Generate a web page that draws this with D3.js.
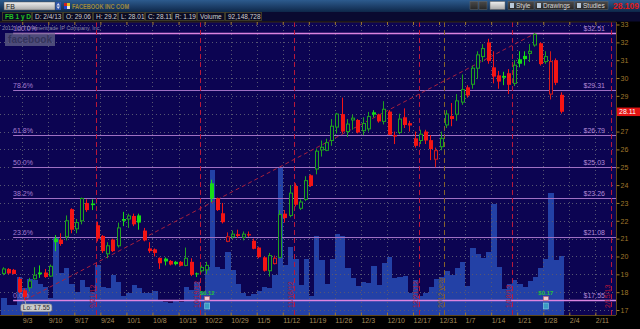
<!DOCTYPE html>
<html>
<head>
<meta charset="utf-8">
<script src="https://d3js.org/d3.v7.min.js"></script>
<style>
  body { margin: 0; background: #000; }
  svg { display: block; font-family: "Liberation Sans", Arial, sans-serif; }
</style>
</head>
<body>
<svg></svg>
<script>
// FB daily chart 8/28/12 - 2/4/13, thinkorswim look

const width = 640;
const height = 329;
const plot = { left: 0, right: 616, top: 22, bottom: 315 };
const bg = "#0c0452";

// OHLC por dia
const opens = [19.05,19.3,19.25,18.75,18.1,18.25,18.75,19.1,19.1,18.9,
  21.0,20.95,21.1,22.65,21.55,22.0,23.0,22.97,21.75,21.15,
  20.15,20.95,20.6,22.1,22.1,22.27,22.3,21.45,20.45,20.4,
  19.92,19.88,19.75,19.7,19.7,19.5,19.7,19.05,19.2,19.25,
  24.1,23.25,22.42,20.85,21.1,21.25,21.08,21.25,20.88,20.5,
  19.95,19.2,19.6,19.95,22.4,22.3,23.95,22.7,23.2,24.55,
  24.9,25.97,25.95,26.5,27.25,27.98,27.0,27.65,27.65,27.05,
  27.15,28.08,27.95,27.57,28.12,26.8,26.95,27.8,27.47,26.62,
  26.5,27.0,26.52,25.45,26.15,27.37,27.87,27.97,28.65,29.48,
  29.65,30.55,31.2,32.0,30.6,30.15,30.12,30.27,29.7,31.05,
  31.24,31.38,31.85,31.95,30.92,29.1,31.0,29.06];
const highs = [19.4,19.35,19.3,18.85,18.2,18.8,19.4,19.5,19.3,19.55,
  21.2,21.3,22.3,22.7,22.1,23.3,23.2,23.2,21.95,21.2,
  20.8,21.0,21.9,22.5,22.4,22.4,22.4,21.6,20.8,20.45,
  19.95,19.95,19.8,19.75,19.75,20.5,19.9,19.1,19.5,19.7,
  24.3,23.3,23.0,21.35,21.45,21.5,21.4,21.4,21.0,20.55,
  20.0,20.2,20.05,22.6,22.6,24.0,24.1,23.2,24.5,24.6,
  26.05,26.5,26.6,27.7,28.05,28.9,27.7,27.95,27.7,27.8,
  28.1,28.2,28.0,28.7,28.2,27.0,28.0,28.3,27.6,27.0,
  27.1,27.1,26.8,26.1,27.0,28.2,28.6,29.1,30.2,29.6,
  30.7,31.5,31.9,32.2,31.5,30.4,30.35,30.5,31.0,31.5,
  31.5,31.9,32.51,32.0,31.5,31.5,31.1,29.2];
const lows = [18.95,19.0,19.0,17.95,17.55,18.05,18.7,18.8,18.8,18.85,
  20.3,20.6,20.9,21.3,21.3,21.8,22.5,22.6,20.85,20.2,
  19.9,20.25,20.5,21.7,21.6,21.7,21.5,20.85,20.2,20.0,
  19.3,19.5,19.5,19.5,19.45,19.45,18.9,18.85,19.1,19.0,
  23.05,22.55,21.85,20.8,21.0,21.05,20.9,21.1,20.4,19.9,
  19.15,18.87,19.55,19.9,21.9,22.2,22.8,22.6,23.1,23.9,
  24.6,25.6,25.9,26.2,26.9,26.9,26.7,27.1,26.9,26.8,
  27.0,27.8,27.5,27.4,26.8,26.3,26.85,27.2,27.0,26.1,
  26.3,26.3,25.4,25.0,25.95,27.2,27.3,27.6,28.5,28.9,
  29.4,29.95,30.9,30.8,29.7,29.4,29.6,29.1,29.55,30.6,
  30.7,30.9,31.75,30.7,30.8,28.8,29.6,28.01];
const closes = [19.3,19.05,19.02,18.0,17.72,18.62,18.95,19.0,18.85,19.45,
  20.8,20.7,22.0,21.5,21.9,23.25,22.6,22.88,21.0,20.3,
  20.6,20.3,21.6,22.0,22.27,21.8,21.9,20.9,20.3,20.2,
  19.62,19.72,19.55,19.57,19.48,19.9,18.97,19.0,19.38,19.5,
  23.25,22.6,21.92,21.1,21.25,21.15,21.25,21.18,20.43,19.96,
  19.2,20.05,19.9,22.35,22.15,23.55,22.9,23.05,24.25,23.95,
  25.9,26.12,26.38,27.3,27.98,27.0,27.42,27.75,26.95,27.45,
  27.84,27.95,27.57,28.25,26.82,26.72,27.7,27.37,27.34,26.2,
  26.85,26.5,26.02,25.93,26.62,27.98,27.7,28.72,29.35,29.02,
  30.55,31.3,31.65,30.95,30.08,29.8,30.02,29.62,30.72,30.8,
  31.06,31.5,32.45,30.78,31.2,30.92,29.73,28.11];
const prevClose0 = 19.0;

// volumen en millones
const volumes = [26,16,16,60,42,57,55,49,44,26,
  122,65,73,49,36,55,44,36,78,44,
  42,62,52,30,34,47,42,34,35,38,
  24,21,19,22,21,43,39,52,36,75,
  226,75,72,99,70,49,34,30,33,38,
  43,42,62,229,78,107,88,47,88,30,
  123,86,48,88,126,123,73,58,46,52,
  50,76,47,81,91,58,60,61,35,55,
  29,34,43,56,60,69,62,73,83,46,
  104,95,89,98,173,75,41,48,55,48,
  43,53,60,73,87,190,86,92];

const weekLabels = ["9/3","9/10","9/17","9/24","10/1","10/8","10/15","10/22","10/29","11/5",
  "11/12","11/19","11/26","12/3","12/10","12/17","12/31","1/7","1/14","1/21","1/28","2/4","2/11"];
const priceTicks = d3.range(17, 34);

const fibNames = ["0.0%","23.6%","38.2%","50.0%","61.8%","78.6%","100.0%"];
const fibPrices = [17.55, 21.08, 23.26, 25.03, 26.79, 29.31, 32.51];

const expiryDays = [17, 37, 55, 79, 97, 116];
const expiryLabels = ["9/21/12","10/19/12","11/16/12","12/21/12","1/18/13","2/15/13"];
const yearEndDay = 84;
const earningsDays = [39, 104];
const earningsEps = ["$0.12", "$0.17"];

const lowDay = 4, highDay = 102;

const svg = d3.select("svg").attr("width", width).attr("height", height);

// escalas
const x = d3.scaleLinear().domain([0, 107]).range([4, 561.5]);
const y = d3.scaleLinear().domain([17, 33]).range([310, 24.5]);
const yVol = d3.scaleLinear().domain([0, 100]).range([plot.bottom, plot.bottom - 64]);
const step = x(1) - x(0);

const defs = svg.append("defs");
const hdr = defs.append("linearGradient").attr("id", "hdr").attr("x1", 0).attr("y1", 0).attr("x2", 0).attr("y2", 1);
hdr.append("stop").attr("offset", "0%").attr("stop-color", "#2d5b8e");
hdr.append("stop").attr("offset", "100%").attr("stop-color", "#0e2749");
const box = defs.append("linearGradient").attr("id", "box").attr("x1", 0).attr("y1", 0).attr("x2", 0).attr("y2", 1);
box.append("stop").attr("offset", "0%").attr("stop-color", "#f0f0f0");
box.append("stop").attr("offset", "100%").attr("stop-color", "#a8a8a8");
const btn = defs.append("linearGradient").attr("id", "btn").attr("x1", 0).attr("y1", 0).attr("x2", 0).attr("y2", 1);
btn.append("stop").attr("offset", "0%").attr("stop-color", "#4a4a4a");
btn.append("stop").attr("offset", "100%").attr("stop-color", "#262626");
defs.append("clipPath").attr("id", "clip").append("rect")
  .attr("x", plot.left).attr("y", plot.top)
  .attr("width", plot.right - plot.left).attr("height", plot.bottom - plot.top);

svg.append("rect").attr("width", width).attr("height", height).attr("fill", "#000");

// barra superior
svg.append("rect").attr("width", width).attr("height", 12).attr("fill", "url(#hdr)");
svg.append("rect").attr("x", 4).attr("y", 2).attr("width", 51).attr("height", 8)
  .attr("fill", "url(#box)").attr("stroke", "#555").attr("stroke-width", 0.5);
svg.append("text").attr("x", 6).attr("y", 8.8).attr("font-size", 7).attr("fill", "#222").text("FB");
svg.append("rect").attr("x", 55.5).attr("y", 2).attr("width", 5.5).attr("height", 8).attr("fill", "#2f55a8");
svg.append("path").attr("d", "M56.5,5.5 L58.25,3 L60,5.5 Z M56.5,6.5 L58.25,9 L60,6.5 Z").attr("fill", "#dde");
svg.append("rect").attr("x", 64).attr("y", 3).attr("width", 3).attr("height", 3).attr("fill", "#d02020");
svg.append("rect").attr("x", 67).attr("y", 3).attr("width", 3).attr("height", 3).attr("fill", "#e0c020");
svg.append("rect").attr("x", 64).attr("y", 6).attr("width", 3).attr("height", 3).attr("fill", "#2040d0");
svg.append("rect").attr("x", 67).attr("y", 6).attr("width", 3).attr("height", 3).attr("fill", "#e0e0e0");
svg.append("text").attr("x", 72).attr("y", 8.6).attr("font-size", 6.5).attr("font-weight", "bold")
  .attr("fill", "#a08a3c").attr("textLength", 57).attr("lengthAdjust", "spacingAndGlyphs")
  .text("FACEBOOK INC COM");

// botones a la derecha
[[470, 8, ""], [479, 8, ""], [490, 15, ""], [508, 26, "Style"], [535, 39, "Drawings"], [575, 33, "Studies"]]
  .forEach(([bx, bw, t], k) => {
    svg.append("rect").attr("x", bx).attr("y", 1.5).attr("width", bw).attr("height", 8)
      .attr("fill", k === 2 ? "url(#box)" : "url(#btn)").attr("stroke", "#666").attr("stroke-width", 0.5);
    if (t) {
      svg.append("rect").attr("x", bx + 2).attr("y", 3).attr("width", 4).attr("height", 5).attr("fill", "#b8c8d8");
      svg.append("text").attr("x", bx + 8).attr("y", 8).attr("font-size", 6.5).attr("fill", "#d8d8d8").text(t);
    }
  });
svg.append("text").attr("x", 639).attr("y", 9).attr("text-anchor", "end").attr("font-size", 8.5)
  .attr("font-weight", "bold").attr("fill", "#e01818").text("28.109");

// barra de datos
svg.append("rect").attr("y", 12).attr("width", width).attr("height", 9.5).attr("fill", "#0a0a30");
const infoCells = [
  { x0: 2, x1: 32, t: "FB 1 y D", c: "#22c422" },
  { x0: 32, x1: 63, t: "D: 2/4/13" },
  { x0: 63, x1: 93, t: "O: 29.06" },
  { x0: 93, x1: 118, t: "H: 29.2" },
  { x0: 118, x1: 145, t: "L: 28.01" },
  { x0: 145, x1: 172, t: "C: 28.11" },
  { x0: 172, x1: 197, t: "R: 1.19" },
  { x0: 197, x1: 225, t: "Volume" },
  { x0: 225, x1: 262, t: "92,148,728" }
];
infoCells.forEach(d => {
  svg.append("rect").attr("x", d.x0 + 0.5).attr("y", 12.5).attr("width", d.x1 - d.x0 - 1).attr("height", 8)
    .attr("fill", "#0b0b22").attr("stroke", "#4a4628").attr("stroke-width", 0.8);
  svg.append("text").attr("x", d.x0 + 3).attr("y", 19.2).attr("font-size", 6.5)
    .attr("font-weight", d.c ? "bold" : "normal").attr("fill", d.c || "#cfcfcf").text(d.t);
});

// area del grafico
svg.append("rect").attr("x", plot.left).attr("y", plot.top)
  .attr("width", plot.right - plot.left).attr("height", plot.bottom - plot.top).attr("fill", bg);

const chart = svg.append("g").attr("clip-path", "url(#clip)");

const candles = opens.map((o, i) => ({
  i, o, h: highs[i], l: lows[i], c: closes[i], v: volumes[i],
  prev: i ? closes[i - 1] : prevClose0
}));

// volumen
chart.append("g").selectAll("rect").data(candles).enter().append("rect")
  .attr("x", d => x(d.i) - step / 2)
  .attr("y", d => yVol(d.v))
  .attr("width", step + 0.2)
  .attr("height", d => plot.bottom - yVol(d.v))
  .attr("fill", "#2341a6")
  .attr("shape-rendering", "crispEdges");

// rejilla punteada
const weekTicks = weekLabels.map((d, k) => 3.5 + 5 * k);
chart.append("g").selectAll("line").data(priceTicks).enter().append("line")
  .attr("x1", plot.left).attr("x2", plot.right)
  .attr("y1", d => Math.round(y(d)) + 0.5).attr("y2", d => Math.round(y(d)) + 0.5)
  .attr("stroke", "#565672").attr("stroke-dasharray", "1,3");
chart.append("g").selectAll("line").data(weekTicks).enter().append("line")
  .attr("x1", d => Math.round(x(d)) + 0.5).attr("x2", d => Math.round(x(d)) + 0.5)
  .attr("y1", plot.top).attr("y2", plot.bottom)
  .attr("stroke", "#565672").attr("stroke-dasharray", "1,3");

// fibonacci
const fibStart = x(1.75);
const fib = chart.append("g").selectAll("g").data(fibPrices).enter().append("g");
fib.append("line")
  .attr("x1", fibStart).attr("x2", plot.right)
  .attr("y1", d => Math.round(y(d)) + 0.5).attr("y2", d => Math.round(y(d)) + 0.5)
  .attr("stroke", (d, k) => (k === 0 || k === fibPrices.length - 1) ? "#dc84e0" : "#a070c4")
  .attr("stroke-width", (d, k) => (k === 0 || k === fibPrices.length - 1) ? 1.4 : 1.1);
fib.append("text")
  .attr("x", fibStart).attr("y", d => y(d) - 2)
  .attr("font-size", 7).attr("fill", "#a47cd0")
  .text((d, k) => fibNames[k]);
fib.append("text")
  .attr("x", 605).attr("y", d => y(d) - 2).attr("text-anchor", "end")
  .attr("font-size", 7).attr("fill", "#b48ad8")
  .text(d => "$" + d.toFixed(2));

// vencimientos y fin de año
const expiry = chart.append("g").selectAll("g").data(expiryDays).enter().append("g");
expiry.append("line")
  .attr("x1", d => Math.round(x(d + 0.58)) + 0.5).attr("x2", d => Math.round(x(d + 0.58)) + 0.5)
  .attr("y1", plot.top).attr("y2", plot.bottom)
  .attr("stroke", "#b8183a").attr("stroke-dasharray", "5,3");
expiry.append("text")
  .attr("transform", d => `translate(${Math.round(x(d + 0.58)) - 1},308) rotate(-90)`)
  .attr("font-size", 7).attr("fill", "#b8183a")
  .text((d, k) => expiryLabels[k]);
chart.append("line")
  .attr("x1", Math.round(x(yearEndDay + 0.5)) + 0.5).attr("x2", Math.round(x(yearEndDay + 0.5)) + 0.5)
  .attr("y1", plot.top).attr("y2", plot.bottom)
  .attr("stroke", "#86622a").attr("stroke-dasharray", "5,3");
chart.append("text")
  .attr("transform", `translate(${Math.round(x(yearEndDay + 0.5)) - 1},308) rotate(-90)`)
  .attr("font-size", 7).attr("fill", "#86622a").text("2012 year");

// linea de tendencia minimo-maximo
chart.append("line")
  .attr("x1", x(lowDay)).attr("y1", y(lows[lowDay]))
  .attr("x2", x(highDay)).attr("y2", y(highs[highDay]))
  .attr("stroke", "#a8203c").attr("stroke-dasharray", "4,3");

// velas
const isUp = d => d.c >= d.prev;
const isFilled = d => d.c < d.o;
const colour = d => isUp(d)
  ? (isFilled(d) ? "#16dc16" : "#1fa21f")
  : (isFilled(d) ? "#f41414" : "#d41a1a");

const candle = chart.append("g").selectAll("g").data(candles).enter().append("g");
candle.append("line")
  .attr("x1", d => Math.round(x(d.i)) - 0.5).attr("x2", d => Math.round(x(d.i)) - 0.5)
  .attr("y1", d => y(d.h)).attr("y2", d => y(d.l))
  .attr("stroke", colour).attr("stroke-width", 1);
candle.filter(isFilled).append("rect")
  .attr("x", d => Math.round(x(d.i)) - 2)
  .attr("y", d => y(d.o))
  .attr("width", 4)
  .attr("height", d => Math.max(1, y(d.c) - y(d.o)))
  .attr("fill", colour);
candle.filter(d => !isFilled(d)).append("rect")
  .attr("x", d => Math.round(x(d.i)) - 1.5)
  .attr("y", d => y(d.c))
  .attr("width", 3)
  .attr("height", d => Math.max(0.5, y(d.o) - y(d.c)))
  .attr("fill", bg).attr("stroke", colour).attr("stroke-width", 1);

// ganancias
const earn = chart.append("g").selectAll("g").data(earningsDays).enter().append("g");
earn.append("text")
  .attr("x", d => x(d)).attr("y", 295).attr("text-anchor", "middle")
  .attr("font-size", 6).attr("font-weight", "bold").attr("fill", "#22c040")
  .text((d, k) => earningsEps[k]);
earn.append("rect")
  .attr("x", d => x(d) - 2.5).attr("y", 296.5).attr("width", 5).attr("height", 4)
  .attr("fill", "#f2c8d0").attr("stroke", "#c06070").attr("stroke-width", 0.6);
earn.append("rect")
  .attr("x", d => x(d) - 2.5).attr("y", 303).attr("width", 5).attr("height", 6)
  .attr("fill", "#3a9cc4").attr("stroke", "#8cd0e8").attr("stroke-width", 0.6);

// etiqueta del minimo
chart.append("line")
  .attr("x1", x(lowDay)).attr("y1", y(lows[lowDay]))
  .attr("x2", x(lowDay) + 1).attr("y2", y(lows[lowDay]) + 4)
  .attr("stroke", "#aaa");
chart.append("rect")
  .attr("x", x(lowDay) - 4).attr("y", y(lows[lowDay]) + 3.8)
  .attr("width", 31).attr("height", 7.5).attr("rx", 2)
  .attr("fill", "#cacaca").attr("stroke", "#8a8a8a").attr("stroke-width", 0.6);
chart.append("text")
  .attr("x", x(lowDay) + 11.5).attr("y", y(lows[lowDay]) + 10)
  .attr("text-anchor", "middle").attr("font-size", 6.5).attr("fill", "#2a2a2a")
  .text("Lo: " + lows[lowDay].toFixed(2));

// copyright y logo
svg.append("text").attr("x", 2).attr("y", 29.5).attr("font-size", 5.5).attr("fill", "#8a8aa8")
  .attr("textLength", 99).attr("lengthAdjust", "spacingAndGlyphs")
  .text("2012 (c) TD Ameritrade IP Company, Inc.");
svg.append("rect").attr("x", 5).attr("y", 33).attr("width", 50).attr("height", 13)
  .attr("fill", "#6a6a8c").attr("opacity", 0.7);
svg.append("text").attr("x", 30).attr("y", 43).attr("text-anchor", "middle")
  .attr("font-size", 10).attr("font-weight", "bold").attr("fill", "#34345a").text("facebook");

// ejes
const last = closes[closes.length - 1];
const axisColour = "#5e4618";
const yAxis = svg.append("g")
  .attr("transform", `translate(${plot.right + 0.5},0)`)
  .call(d3.axisRight(y).tickValues(priceTicks.filter(d => d !== Math.floor(last)))
    .tickSize(3).tickPadding(1).tickFormat(d3.format("d")));
yAxis.select(".domain").attr("stroke", axisColour).attr("d", `M0,${plot.top}V${plot.bottom}`);
yAxis.selectAll(".tick line").attr("stroke", "#a0782c");
yAxis.selectAll(".tick text").attr("fill", "#a0782c").style("font-size", "7px")
  .style("font-family", "'Liberation Sans', Arial, sans-serif");

const xAxis = svg.append("g")
  .attr("transform", `translate(0,${plot.bottom + 0.5})`)
  .call(d3.axisBottom(x).tickValues(weekTicks).tickSize(-3).tickPadding(0)
    .tickFormat((d, k) => weekLabels[k]));
xAxis.select(".domain").attr("stroke", axisColour).attr("d", `M${plot.left},0H${plot.right}`);
xAxis.selectAll(".tick line").attr("stroke", "#a0782c");
xAxis.selectAll(".tick text").attr("fill", "#a88c5a").attr("y", 3).attr("text-anchor", "start")
  .style("font-size", "7px").style("font-family", "'Liberation Sans', Arial, sans-serif");

const topAxis = svg.append("g")
  .attr("transform", `translate(0,${plot.top})`)
  .call(d3.axisTop(x).tickValues(weekTicks).tickSize(-3).tickFormat(""));
topAxis.select(".domain").attr("stroke", "#3a2c12").attr("d", `M${plot.left},0H${plot.right}`);
topAxis.selectAll(".tick line").attr("stroke", "#a0782c");

// precio actual
svg.append("rect").attr("x", 617).attr("y", y(last) - 4.2).attr("width", 23).attr("height", 8.5).attr("fill", "#e41414");
svg.append("text").attr("x", 619).attr("y", y(last) + 2.6).attr("font-size", 7).attr("fill", "#fff")
  .text(last.toFixed(2));
</script>
</body>
</html>
